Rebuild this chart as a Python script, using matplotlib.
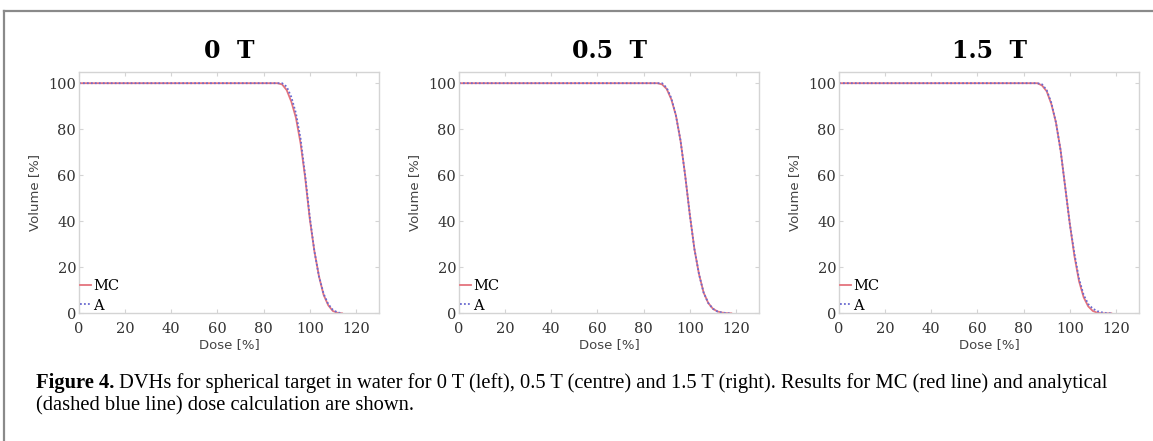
import matplotlib
matplotlib.use("Agg")
import matplotlib.pyplot as plt
from matplotlib.lines import Line2D

# ---- data (dose in %, volume in %) ----
panel_titles = ["0  T", "0.5  T", "1.5  T"]

dose_0T  = [0, 86, 88, 90, 92, 94, 96, 98, 100, 102, 104, 106, 108, 110, 112, 114]
mc_0T    = [100, 100, 99.5, 97, 92, 85, 74, 59, 41, 27, 16, 8, 3.5, 1.0, 0.2, 0]
a_0T     = [100, 100, 100, 98.5, 94, 87, 76, 60, 42, 27, 16, 8.5, 4, 1.5, 0.4, 0]

dose_05T = [0, 86, 88, 90, 92, 94, 96, 98, 100, 102, 104, 106, 108, 110, 112, 114, 116, 118]
mc_05T   = [100, 100, 99.5, 97.5, 93, 86, 75, 60, 43, 28, 17, 9, 4.5, 2.0, 0.8, 0.3, 0.1, 0]
a_05T    = [100, 100, 100, 98, 93.5, 86, 75, 60, 43, 28, 17, 9, 4.5, 2.0, 0.8, 0.3, 0.1, 0]

dose_15T = [0, 86, 88, 90, 92, 94, 96, 98, 100, 102, 104, 106, 108, 110, 112, 114, 116, 118]
mc_15T   = [100, 100, 99, 96.5, 91, 83, 71, 55, 39, 25, 14, 7, 3, 1.0, 0.2, 0, 0, 0]
a_15T    = [100, 100, 99.5, 97, 91.5, 83, 71, 55, 39, 26, 15, 8, 4, 2.0, 0.9, 0.4, 0.1, 0]

doses = [dose_0T, dose_05T, dose_15T]
mc_vals = [mc_0T, mc_05T, mc_15T]
a_vals = [a_0T, a_05T, a_15T]

x_ticks = [0, 20, 40, 60, 80, 100, 120]
y_ticks = [0, 20, 40, 60, 80, 100]

caption_bold = "Figure 4."
caption_1 = (" DVHs for spherical target in water for 0 T (left), 0.5 T (centre) and 1.5 T (right). "
             "Results for MC (red line) and analytical")
caption_2 = "(dashed blue line) dose calculation are shown."

MC_COLOUR = "#e4737d"
A_COLOUR = "#6a6ad0"
SPINE = "#d4d4d4"

fig = plt.figure(figsize=(11.53, 4.41), dpi=100)

lefts = [79 / 1153, 459 / 1153, 839 / 1153]
for i in range(3):
    ax = fig.add_axes([lefts[i], 1 - 313.3 / 441, 300 / 1153, 241.6 / 441])
    ax.plot(doses[i], mc_vals[i], color=MC_COLOUR, lw=1.3, label="MC")
    ax.plot(doses[i], a_vals[i], color=A_COLOUR, lw=1.3, ls=(0, (1, 1.2)), label="A")
    ax.set_xlim(0, 130)
    ax.set_ylim(0, 105)
    ax.set_xticks(x_ticks)
    ax.set_yticks(y_ticks)
    ax.tick_params(direction="in", length=3, color=SPINE, top=True, right=True,
                   labelsize=10.5, labelcolor="#333333")
    ax.tick_params(axis="x", pad=6)
    ax.tick_params(axis="y", pad=2)
    for lab in ax.get_xticklabels() + ax.get_yticklabels():
        lab.set_family("DejaVu Serif")
    for s in ax.spines.values():
        s.set_color(SPINE)
        s.set_linewidth(1.0)
    ax.set_xlabel("Dose [%]", fontsize=9.5, color="#444444", labelpad=2)
    ax.set_ylabel("Volume [%]", fontsize=9.5, color="#444444", labelpad=5)
    ax.set_title(panel_titles[i], fontsize=17, pad=10, family="DejaVu Serif", weight="bold")
    ax.legend(loc="lower left", frameon=False, handlelength=0.8, handletextpad=0.1,
              borderaxespad=0.0, borderpad=0.05, labelspacing=0.35,
              prop={"family": "DejaVu Serif", "size": 10.5})

# caption
fig.canvas.draw()
renderer = fig.canvas.get_renderer()
t_bold = fig.text(36 / 1153, 1 - 383 / 441, caption_bold, fontsize=14.8, weight="bold",
                  family="Liberation Serif", va="center", ha="left")
bb = t_bold.get_window_extent(renderer)
x_after = bb.x1 / fig.bbox.width
fig.text(x_after, 1 - 383 / 441, caption_1, fontsize=14.8, family="Liberation Serif",
         va="center", ha="left")
fig.text(36 / 1153, 1 - 405.5 / 441, caption_2, fontsize=14.8, family="Liberation Serif",
         va="center", ha="left")

# page frame lines (top and left)
fig.add_artist(Line2D([4 / 1153, 1], [1 - 11 / 441, 1 - 11 / 441], transform=fig.transFigure,
                      color="#8a8a8a", lw=1.6))
fig.add_artist(Line2D([4 / 1153, 4 / 1153], [0, 1 - 11 / 441], transform=fig.transFigure,
                      color="#8a8a8a", lw=1.6))

fig.savefig("out.png", dpi=100)
